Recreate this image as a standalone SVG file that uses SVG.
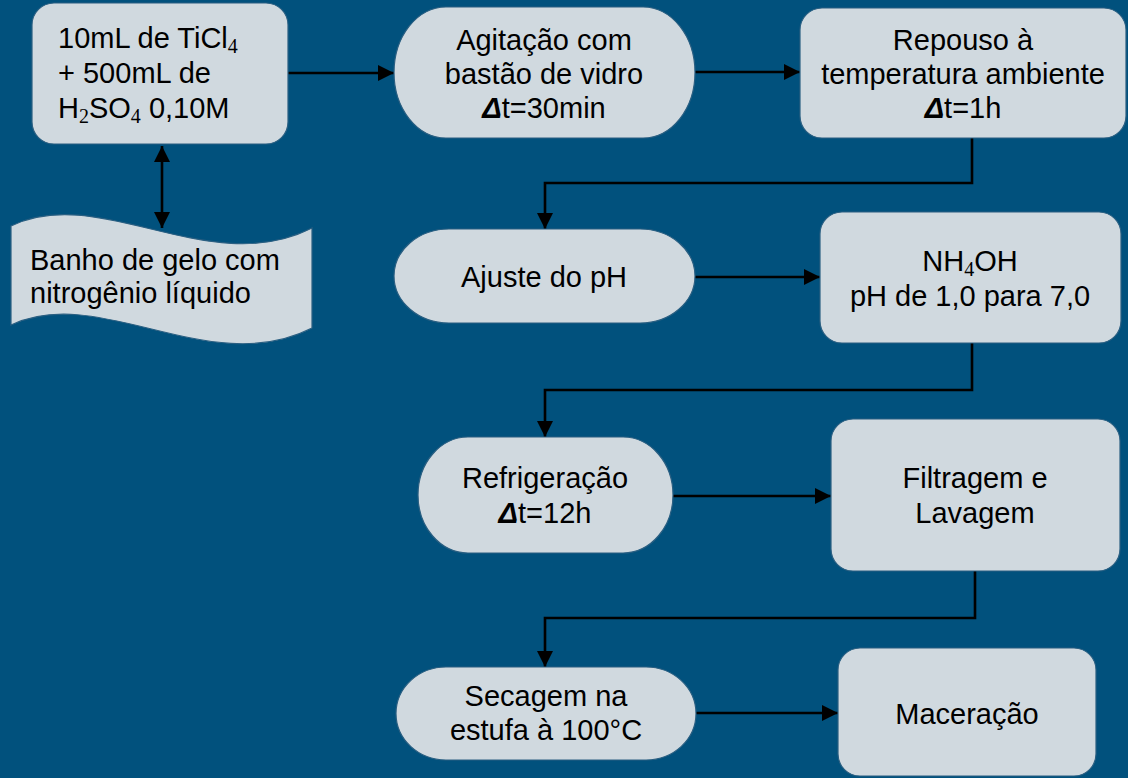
<svg xmlns="http://www.w3.org/2000/svg" width="1128" height="778" viewBox="0 0 1128 778">
<defs>
<marker id="ah" markerUnits="userSpaceOnUse" markerWidth="18" markerHeight="18" viewBox="0 0 18 18" refX="16" refY="9" orient="auto-start-reverse">
<path d="M0,1 L16,9 L0,17 z" fill="#000"/>
</marker>
<style>
.n{fill:#d0d9df;stroke:#2a5f82;stroke-width:1.2}
.t{font-family:"Liberation Sans",Arial,sans-serif;font-size:29px;fill:#000}
.c{text-anchor:middle}
.s{font-family:"Liberation Serif","DejaVu Serif",serif;font-size:20px}
.d{font-weight:bold;font-style:italic}
.e{fill:none;stroke:#000;stroke-width:2.6}
</style>
</defs>
<rect width="1128" height="778" fill="#01517d"/>
<g id="connectors">
<line class="e" x1="288" y1="73" x2="394" y2="73" marker-end="url(#ah)"/>
<line class="e" x1="695" y1="72" x2="800" y2="72" marker-end="url(#ah)"/>
<line class="e" x1="162" y1="146" x2="162" y2="228" marker-start="url(#ah)" marker-end="url(#ah)"/>
<path class="e" d="M972,138 V183 H545 V229" marker-end="url(#ah)"/>
<line class="e" x1="695" y1="277" x2="820" y2="277" marker-end="url(#ah)"/>
<path class="e" d="M972,343 V390 H545 V437" marker-end="url(#ah)"/>
<line class="e" x1="673" y1="496" x2="831" y2="496" marker-end="url(#ah)"/>
<path class="e" d="M975,571 V618 H545 V667" marker-end="url(#ah)"/>
<line class="e" x1="696" y1="713" x2="838" y2="713" marker-end="url(#ah)"/>
</g>
<g id="n1">
<rect class="n" x="32" y="3" width="256" height="141" rx="22"/>
<text class="t" x="58" y="48">10mL de TiCl<tspan class="s" dy="5">4</tspan></text>
<text class="t" x="58" y="83">+ 500mL de</text>
<text class="t" x="58" y="118">H<tspan class="s" dy="5">2</tspan><tspan dy="-5">SO</tspan><tspan class="s" dy="5">4</tspan><tspan dy="-5"> 0,10M</tspan></text>
</g>
<g id="n_banho">
<path class="n" d="M11,226 C100,183 210,280 312,228 L312,328 C210,380 100,283 11,325 Z"/>
<text class="t" x="30" y="270">Banho de gelo com</text>
<text class="t" x="30" y="303">nitrogênio líquido</text>
</g>
<g id="n2">
<rect class="n" x="394" y="7" width="301" height="131" rx="52" ry="65.5"/>
<text class="t c" x="544" y="50">Agitação com</text>
<text class="t c" x="544" y="84">bastão de vidro</text>
<text class="t c" x="544" y="118"><tspan class="d">Δ</tspan>t=30min</text>
</g>
<g id="n3">
<rect class="n" x="800" y="8" width="326" height="130" rx="22"/>
<text class="t c" x="963" y="50">Repouso à</text>
<text class="t c" x="963" y="84">temperatura ambiente</text>
<text class="t c" x="963" y="118"><tspan class="d">Δ</tspan>t=1h</text>
</g>
<g id="n4">
<rect class="n" x="394" y="229" width="301" height="94" rx="55" ry="47"/>
<text class="t c" x="544" y="287">Ajuste do pH</text>
</g>
<g id="n5">
<rect class="n" x="820" y="212" width="301" height="131" rx="22"/>
<text class="t c" x="970" y="271">NH<tspan class="s" dy="5">4</tspan><tspan dy="-5">OH</tspan></text>
<text class="t c" x="970" y="306">pH de 1,0 para 7,0</text>
</g>
<g id="n6">
<rect class="n" x="418" y="437" width="255" height="116" rx="50" ry="58"/>
<text class="t c" x="545" y="488">Refrigeração</text>
<text class="t c" x="545" y="523"><tspan class="d">Δ</tspan>t=12h</text>
</g>
<g id="n7">
<rect class="n" x="831" y="419" width="289" height="152" rx="22"/>
<text class="t c" x="975" y="488">Filtragem e</text>
<text class="t c" x="975" y="523">Lavagem</text>
</g>
<g id="n8">
<rect class="n" x="396" y="667" width="300" height="93" rx="50" ry="46.5"/>
<text class="t c" x="546" y="706">Secagem na</text>
<text class="t c" x="546" y="740">estufa à 100°C</text>
</g>
<g id="n9">
<rect class="n" x="838" y="648" width="258" height="128" rx="22"/>
<text class="t c" x="967" y="724">Maceração</text>
</g>
</svg>
